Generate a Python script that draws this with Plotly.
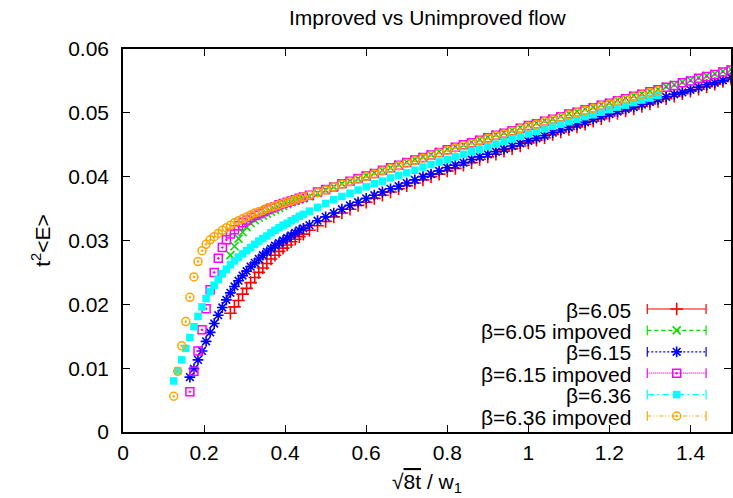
import plotly.graph_objects as go

# ---------------- data ----------------
# x grids (sqrt(8t)/w1): dense head part, shared tail part
x_head_605 = [0.265, 0.275, 0.285, 0.295, 0.305, 0.315, 0.325, 0.335, 0.345, 0.355,
              0.365, 0.375, 0.385, 0.395, 0.405, 0.415, 0.425, 0.435, 0.445]
x_head_615 = [0.165, 0.175, 0.185, 0.195, 0.205, 0.215, 0.225, 0.235, 0.245, 0.255,
              0.265, 0.275, 0.285, 0.295, 0.305, 0.315, 0.325, 0.335, 0.345, 0.355,
              0.365, 0.375, 0.385, 0.395, 0.405, 0.415, 0.425, 0.435, 0.445]
x_head_636 = [0.125, 0.135, 0.145, 0.155, 0.165, 0.175, 0.185, 0.195, 0.205, 0.215,
              0.225, 0.235, 0.245, 0.255, 0.265, 0.275, 0.285, 0.295, 0.305, 0.315,
              0.325, 0.335, 0.345, 0.355, 0.365, 0.375, 0.385, 0.395, 0.405, 0.415,
              0.425, 0.435, 0.445]
x_tail = [0.46, 0.48, 0.50, 0.52, 0.54, 0.56, 0.58, 0.60, 0.62, 0.64, 0.66, 0.68, 0.70,
          0.72, 0.74, 0.76, 0.78, 0.80, 0.82, 0.84, 0.86, 0.88, 0.90, 0.92, 0.94, 0.96,
          0.98, 1.00, 1.02, 1.04, 1.06, 1.08, 1.10, 1.12, 1.14, 1.16, 1.18, 1.20, 1.22,
          1.24, 1.26, 1.28, 1.30, 1.32, 1.34, 1.36, 1.38, 1.40, 1.42, 1.44, 1.46, 1.48, 1.50]
x_tail_636 = [0.46, 0.48, 0.50, 0.52, 0.54, 0.56, 0.58, 0.60, 0.62, 0.64, 0.66, 0.68, 0.70,
              0.72, 0.74, 0.76, 0.78, 0.80, 0.82, 0.84, 0.86, 0.88, 0.90, 0.92, 0.94, 0.96,
              0.98, 1.00, 1.02, 1.04, 1.06, 1.08, 1.10, 1.12, 1.14, 1.16, 1.18, 1.20, 1.22,
              1.24, 1.26, 1.28, 1.30, 1.32]

# t^2<E> values
y_605 = [0.0186, 0.0196, 0.0206, 0.0216, 0.0225, 0.0234, 0.0242, 0.0250, 0.0257, 0.0264,
         0.0271, 0.0277, 0.0283, 0.0288, 0.0293, 0.0298, 0.0302, 0.0306, 0.0310,
         0.0316, 0.0323, 0.0330, 0.0337, 0.0343, 0.0349, 0.0355, 0.0360, 0.0366, 0.0371,
         0.0376, 0.0381, 0.0386, 0.0390, 0.0395, 0.0400, 0.0404, 0.0409,
         0.0413, 0.0418, 0.0422, 0.0427, 0.0431, 0.0435, 0.0440, 0.0444, 0.0448, 0.0453,
         0.0457, 0.0461, 0.0466, 0.0470, 0.0474, 0.0478, 0.0482, 0.0487, 0.0491, 0.0495,
         0.0499, 0.0503, 0.0506, 0.0510, 0.0514, 0.0518,
         0.0522, 0.0526, 0.0530, 0.0534, 0.0537, 0.0541, 0.0545, 0.0549, 0.0553]
y_605_imp = [0.0277, 0.0291, 0.0303, 0.0313, 0.0321, 0.0327, 0.0332, 0.0336, 0.0339, 0.0342,
             0.0345, 0.0348, 0.0351, 0.0354, 0.0357, 0.0360, 0.0362, 0.0364, 0.0366,
             0.0369, 0.0374, 0.0379, 0.0384, 0.0389, 0.0393, 0.0397, 0.0402, 0.0406, 0.0410,
             0.0414, 0.0419, 0.0423, 0.0427, 0.0431, 0.0435, 0.0439, 0.0443,
             0.0447, 0.0450, 0.0454, 0.0458, 0.0462, 0.0466, 0.0469, 0.0473, 0.0477, 0.0481,
             0.0484, 0.0488, 0.0491, 0.0495, 0.0499, 0.0502, 0.0506, 0.0509, 0.0513, 0.0516,
             0.0520, 0.0523, 0.0527, 0.0530, 0.0534, 0.0537,
             0.0541, 0.0544, 0.0548, 0.0551, 0.0555, 0.0558, 0.0561, 0.0565, 0.0568]
y_615 = [0.0086, 0.0099, 0.0113, 0.0127, 0.0142, 0.0156, 0.0170, 0.0183, 0.0195, 0.0207,
         0.0218, 0.0228, 0.0237, 0.0245, 0.0252, 0.0259, 0.0265, 0.0271, 0.0277, 0.0282,
         0.0287, 0.0292, 0.0296, 0.0300, 0.0304, 0.0308, 0.0312, 0.0316, 0.0319,
         0.0324, 0.0331, 0.0337, 0.0343, 0.0349, 0.0355, 0.0360, 0.0366, 0.0371, 0.0376,
         0.0381, 0.0385, 0.0390, 0.0395, 0.0400, 0.0404, 0.0409, 0.0414,
         0.0418, 0.0422, 0.0427, 0.0431, 0.0435, 0.0439, 0.0443, 0.0448, 0.0452, 0.0456,
         0.0460, 0.0464, 0.0469, 0.0473, 0.0477, 0.0481, 0.0485, 0.0490, 0.0494, 0.0498,
         0.0502, 0.0506, 0.0509, 0.0513, 0.0517, 0.0521,
         0.0525, 0.0529, 0.0532, 0.0536, 0.0540, 0.0544, 0.0547, 0.0551, 0.0555]
y_615_imp = [0.0063, 0.0095, 0.0127, 0.0160, 0.0193, 0.0223, 0.0250, 0.0272, 0.0289, 0.0301,
             0.0310, 0.0317, 0.0323, 0.0328, 0.0332, 0.0336, 0.0339, 0.0342, 0.0345, 0.0348,
             0.0351, 0.0353, 0.0356, 0.0358, 0.0360, 0.0362, 0.0364, 0.0366, 0.0368,
             0.0371, 0.0376, 0.0380, 0.0384, 0.0389, 0.0393, 0.0397, 0.0401, 0.0405, 0.0410,
             0.0414, 0.0418, 0.0422, 0.0426, 0.0430, 0.0434, 0.0438, 0.0442,
             0.0446, 0.0450, 0.0453, 0.0457, 0.0461, 0.0465, 0.0468, 0.0472, 0.0476, 0.0480,
             0.0483, 0.0487, 0.0490, 0.0494, 0.0498, 0.0501, 0.0505, 0.0508, 0.0512, 0.0515,
             0.0519, 0.0522, 0.0526, 0.0529, 0.0533, 0.0536,
             0.0540, 0.0543, 0.0547, 0.0550, 0.0554, 0.0557, 0.0560, 0.0564, 0.0567]
y_636 = [0.0080, 0.0096, 0.0113, 0.0131, 0.0148, 0.0165, 0.0181, 0.0196, 0.0209, 0.0220,
         0.0230, 0.0239, 0.0248, 0.0255, 0.0262, 0.0268, 0.0274, 0.0279, 0.0284, 0.0289,
         0.0294, 0.0299, 0.0303, 0.0307, 0.0312, 0.0316, 0.0320, 0.0324, 0.0327, 0.0331,
         0.0334, 0.0338, 0.0341,
         0.0346, 0.0352, 0.0358, 0.0364, 0.0369, 0.0374, 0.0379, 0.0384, 0.0389, 0.0393,
         0.0398, 0.0402, 0.0406, 0.0410, 0.0415, 0.0419, 0.0423, 0.0427,
         0.0431, 0.0435, 0.0439, 0.0443, 0.0447, 0.0451, 0.0455, 0.0459, 0.0463, 0.0467,
         0.0471, 0.0475, 0.0479, 0.0482, 0.0486, 0.0490, 0.0494, 0.0497, 0.0501, 0.0505,
         0.0509, 0.0512, 0.0516, 0.0520, 0.0523, 0.0527]
y_636_imp = [0.0056, 0.0095, 0.0135, 0.0173, 0.0211, 0.0243, 0.0267, 0.0284, 0.0294, 0.0301,
             0.0306, 0.0311, 0.0316, 0.0320, 0.0324, 0.0328, 0.0331, 0.0334, 0.0337, 0.0340,
             0.0343, 0.0345, 0.0347, 0.0350, 0.0352, 0.0354, 0.0356, 0.0358, 0.0360, 0.0362,
             0.0364, 0.0366, 0.0368,
             0.0371, 0.0375, 0.0379, 0.0384, 0.0388, 0.0392, 0.0396, 0.0400, 0.0404, 0.0409,
             0.0413, 0.0417, 0.0421, 0.0425, 0.0429, 0.0433, 0.0437, 0.0441,
             0.0445, 0.0449, 0.0452, 0.0456, 0.0460, 0.0464, 0.0467, 0.0471, 0.0475, 0.0479,
             0.0482, 0.0486, 0.0489, 0.0493, 0.0497, 0.0500, 0.0504, 0.0507, 0.0511, 0.0514,
             0.0518, 0.0521, 0.0525, 0.0528, 0.0532, 0.0535]

series_names = ["β=6.05", "β=6.05 impoved", "β=6.15", "β=6.15 impoved", "β=6.36", "β=6.36 impoved"]
x_ticks = [0, 0.2, 0.4, 0.6, 0.8, 1.0, 1.2, 1.4]
x_tick_labels = ["0", "0.2", "0.4", "0.6", "0.8", "1", "1.2", "1.4"]
y_ticks = [0, 0.01, 0.02, 0.03, 0.04, 0.05, 0.06]
y_tick_labels = ["0", "0.01", "0.02", "0.03", "0.04", "0.05", "0.06"]

# ---------------- styling ----------------
FONT = "Liberation Sans, Arial, Helvetica, sans-serif"
FS = 21
styles = [
    dict(color="#ff0000", symbol="cross-thin-open", size=9, lw=1.6, dash="solid"),
    dict(color="#00e000", symbol="x-thin-open", size=8, lw=1.6, dash="4px,3px"),
    dict(color="#0000ff", symbol="asterisk-open", size=9, lw=1.6, dash="2px,2px"),
    dict(color="#ff00ff", symbol="square-open-dot", size=8, lw=1.5, dash="1px,1px"),
    dict(color="#00ffff", symbol="square", size=7.5, lw=0, dash="7px,3px,2px,3px"),
    dict(color="#ffa500", symbol="circle-open-dot", size=8, lw=1.5, dash="4px,2px,1px,2px,1px,2px"),
]
xs = [x_head_605 + x_tail, x_head_605 + x_tail,
      x_head_615 + x_tail, x_head_615 + x_tail,
      x_head_636 + x_tail_636, x_head_636 + x_tail_636]
ys = [y_605, y_605_imp, y_615, y_615_imp, y_636, y_636_imp]

fig = go.Figure()
for name, x, y, st in zip(series_names, xs, ys, styles):
    fig.add_trace(go.Scatter(
        x=x, y=y, mode="markers", name=name, showlegend=False,
        marker=dict(symbol=st["symbol"], size=st["size"], color=st["color"],
                    line=dict(color=st["color"], width=st["lw"])),
    ))

# ---------------- custom gnuplot-like key (pixel overlay axes) ----------------
PL, PR, PT, PB = 123, 733, 49, 432
key_text_right = 635
key_x0, key_x1 = 649, 708
key_row0, key_dy = 309, 21.4
annotations = []
for i, (name, st) in enumerate(zip(series_names, styles)):
    ry = key_row0 + i * key_dy
    fig.add_trace(go.Scatter(
        x=[key_x0, key_x1], y=[ry, ry], xaxis="x2", yaxis="y2", mode="lines+markers",
        showlegend=False, hoverinfo="skip",
        line=dict(color=st["color"], width=1.2, dash=st["dash"]),
        marker=dict(symbol="line-ns-open", size=7, line=dict(color=st["color"], width=1.2)),
    ))
    fig.add_trace(go.Scatter(
        x=[(key_x0 + key_x1) / 2], y=[ry], xaxis="x2", yaxis="y2", mode="markers",
        showlegend=False, hoverinfo="skip",
        marker=dict(symbol=st["symbol"], size=st["size"], color=st["color"],
                    line=dict(color=st["color"], width=st["lw"])),
    ))
    annotations.append(dict(
        x=key_text_right, y=ry + 1, xref="x2", yref="y2", text=name, showarrow=False,
        xanchor="right", yanchor="middle", font=dict(family=FONT, size=FS, color="black"),
    ))

H = PB - PT
def py(p):
    return (PB - p) / H

annotations += [
    dict(text="Improved vs Unimproved flow", x=0.5, y=py(17), xref="paper", yref="paper",
         showarrow=False, xanchor="center", yanchor="middle",
         font=dict(family=FONT, size=FS, color="black")),
    dict(text="√<span style='text-decoration:overline'>8t</span> / w<sub>1</sub>",
         x=0.5, y=py(483), xref="paper", yref="paper", showarrow=False,
         xanchor="center", yanchor="middle", font=dict(family=FONT, size=FS, color="black")),
    dict(text="t<sup>2</sup>&lt;E&gt;", x=(40 - PL) / (PR - PL), y=0.5, xref="paper", yref="paper",
         showarrow=False, textangle=-90, xanchor="center", yanchor="middle",
         font=dict(family=FONT, size=FS, color="black")),
]

axis_common = dict(showgrid=False, zeroline=False, showline=True, linecolor="black",
                   linewidth=1.5, mirror="ticks", ticks="inside", ticklen=7,
                   tickcolor="black", tickwidth=1,
                   tickfont=dict(family=FONT, size=FS, color="black"))

fig.update_layout(
    width=733, height=498,
    margin=dict(l=PL, r=733 - PR, t=PT, b=498 - PB, pad=0),
    paper_bgcolor="white", plot_bgcolor="white",
    xaxis=dict(range=[0, 1.5], tickvals=x_ticks, ticktext=x_tick_labels,
               ticklabelstandoff=1, **axis_common),
    yaxis=dict(range=[0, 0.06], tickvals=y_ticks, ticktext=y_tick_labels,
               ticklabelstandoff=8, **axis_common),
    xaxis2=dict(overlaying="x", range=[PL, PR], visible=False),
    yaxis2=dict(overlaying="y", range=[PB, PT], visible=False),
    annotations=annotations,
    showlegend=False,
)

fig.write_html("out.html")
